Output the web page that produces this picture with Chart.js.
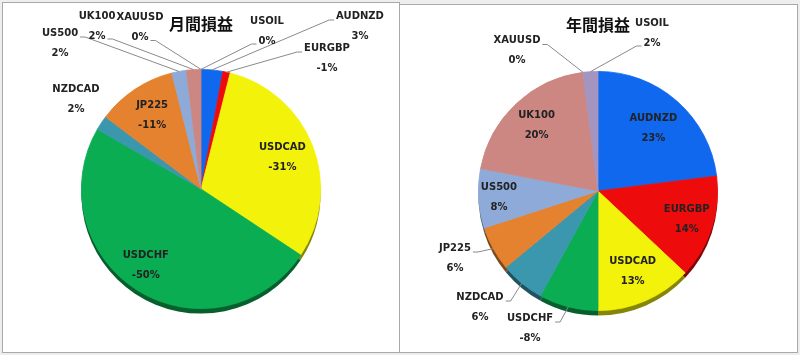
<!DOCTYPE html>
<html>
<head>
<meta charset="utf-8">
<script src="https://cdn.jsdelivr.net/npm/chart.js@4.4.1/dist/chart.umd.min.js"></script>
<style>
  html, body { margin: 0; padding: 0; }
  body { width: 800px; height: 355px; background: #eceef0; position: relative; overflow: hidden; }
  .panel { position: absolute; background: #fff; border: 1px solid #a9a9a9; }
  #pl { left: 2px; top: 2px; width: 396px; height: 349px; }
  #pr { left: 399px; top: 4px; width: 397px; height: 347px; }
  canvas { position: absolute; left: 0; top: 0; }
</style>
</head>
<body>
<div class="panel" id="pl"><canvas id="c1" width="396" height="349"></canvas></div>
<div class="panel" id="pr"><canvas id="c2" width="396" height="346"></canvas></div>
<script>
// ---- data ----
const categories = ['AUDNZD', 'EURGBP', 'USDCAD', 'USDCHF', 'NZDCAD', 'JP225', 'US500', 'UK100', 'XAUUSD', 'USOIL'];
const monthlyPct = [3, -1, -31, -50, 2, -11, 2, 2, 0, 0];
const yearlyPct = [23, 14, 13, -8, 6, 6, 8, 20, 0, 2];
const monthlyTitle = '月間損益';
const yearlyTitle = '年間損益';

// ---- styles ----
const sliceColors = ['#1068ee', '#ee0b0b', '#f2f20a', '#0aad52', '#3a97ad', '#e4822f', '#8eaad8', '#cd8782', '#8fb04a', '#a394c0'];
const textColor = '#222222';
const labelFont = 'bold 10px "DejaVu Sans", Verdana, sans-serif';
const lineGap = 20;

// label placement: inside (fraction of radius) or outside (offset from pie centre, px)
const monthlyLayout = {
  AUDNZD: { out: [159, -163], anchor: 'nameL' },
  EURGBP: { out: [126, -131], anchor: 'nameL' },
  USDCAD: { f: 0.73 },
  USDCHF: { f: 0.75, nudge: [-8, 0] },
  NZDCAD: { out: [-125, -90], anchor: null },
  JP225: { f: 0.74 },
  US500: { out: [-141, -146], anchor: 'nameR' },
  UK100: { out: [-104, -163], anchor: 'valR' },
  XAUUSD: { out: [-61, -161.5], anchor: 'valR' },
  USOIL: { out: [66, -158], anchor: 'valL' }
};
const yearlyLayout = {
  AUDNZD: { f: 0.70 },
  EURGBP: { f: 0.78 },
  USDCAD: { f: 0.73 },
  USDCHF: { out: [-68, 137], anchor: 'nameR' },
  NZDCAD: { out: [-118, 116], anchor: 'nameR' },
  JP225: { out: [-143, 67], anchor: 'nameR' },
  US500: { f: 0.83 },
  UK100: { f: 0.75 },
  XAUUSD: { out: [-81, -140.5], anchor: 'nameR' },
  USOIL: { out: [54, -158], anchor: 'valL' }
};

function shade(hex, k) {
  const n = parseInt(hex.slice(1), 16);
  let r = (n >> 16) & 255, g = (n >> 8) & 255, b = n & 255;
  if (k >= 0) { r += (255 - r) * k; g += (255 - g) * k; b += (255 - b) * k; }
  else { r *= (1 + k); g *= (1 + k); b *= (1 + k); }
  return 'rgb(' + Math.round(r) + ',' + Math.round(g) + ',' + Math.round(b) + ')';
}

function gradientFill(ctx) {
  const base = sliceColors[ctx.dataIndex];
  const chart = ctx.chart;
  const meta = chart.getDatasetMeta(0);
  const arc = meta.data[ctx.dataIndex];
  if (!arc || !arc.outerRadius) return base;
  const r = arc.outerRadius, x = arc.x, y = arc.y;
  const g = chart.ctx.createLinearGradient(x - r * 0.7, y - r * 0.7, x + r * 0.7, y + r * 0.7);
  g.addColorStop(0, shade(base, 0.06));
  g.addColorStop(0.5, base);
  g.addColorStop(1, shade(base, -0.14));
  return g;
}

// 3D side rim drawn from the library's arcs, only outside the top face
const rimPlugin = {
  id: 'rim',
  beforeDatasetsDraw(chart) {
    const ctx = chart.ctx;
    const meta = chart.getDatasetMeta(0);
    const a0 = meta.data[0];
    if (!a0) return;
    ctx.save();
    ctx.beginPath();
    ctx.rect(0, 0, chart.width, chart.height);
    ctx.arc(a0.x, a0.y, a0.outerRadius - 0.5, 0, Math.PI * 2);
    ctx.clip('evenodd');
    meta.data.forEach((arc, i) => {
      const p = arc.getProps(['x', 'y', 'startAngle', 'endAngle', 'outerRadius']);
      if (p.endAngle - p.startAngle <= 0) return;
      ctx.beginPath();
      ctx.moveTo(p.x, p.y + 5);
      ctx.arc(p.x, p.y + 5, p.outerRadius, p.startAngle, p.endAngle);
      ctx.closePath();
      ctx.fillStyle = shade(sliceColors[i], -0.45);
      ctx.fill();
    });
    ctx.restore();
  }
};

function makeLabelPlugin(values, layout) {
  return {
    id: 'sliceLabels',
    afterDatasetsDraw(chart) {
      const ctx = chart.ctx;
      const meta = chart.getDatasetMeta(0);
      ctx.save();
      ctx.font = labelFont;
      ctx.fillStyle = textColor;
      ctx.textAlign = 'center';
      ctx.textBaseline = 'middle';
      meta.data.forEach((arc, i) => {
        const p = arc.getProps(['x', 'y', 'startAngle', 'endAngle', 'outerRadius']);
        const name = categories[i];
        const val = values[i] + '%';
        const L = layout[name];
        const mid = (p.startAngle + p.endAngle) / 2;
        let cx, cy;
        if (L.out) {
          cx = p.x + L.out[0];
          cy = p.y + L.out[1];
        } else {
          const f = L.f * p.outerRadius;
          cx = p.x + Math.cos(mid) * f + (L.nudge ? L.nudge[0] : 0);
          cy = p.y + Math.sin(mid) * f + (L.nudge ? L.nudge[1] : 0);
        }
        const ny = cy - lineGap / 2, vy = cy + lineGap / 2;
        if (L.out && L.anchor) {
          const nw = ctx.measureText(name).width, vw = ctx.measureText(val).width;
          let ax, ay, dir;
          if (L.anchor === 'nameL') { ax = cx - nw / 2 - 2; ay = ny + 4; dir = -1; }
          else if (L.anchor === 'nameR') { ax = cx + nw / 2 + 2; ay = ny + 4; dir = 1; }
          else if (L.anchor === 'valL') { ax = cx - vw / 2 - 2; ay = vy + 3; dir = -1; }
          else { ax = cx + vw / 2 + 2; ay = vy + 3; dir = 1; }
          const tx = p.x + Math.cos(mid) * p.outerRadius;
          const ty = p.y + Math.sin(mid) * p.outerRadius;
          ctx.beginPath();
          ctx.strokeStyle = '#8a8a8a';
          ctx.lineWidth = 1;
          ctx.moveTo(ax, ay);
          ctx.lineTo(ax + dir * 5, ay);
          ctx.lineTo(tx, ty);
          ctx.stroke();
        }
        ctx.fillText(name, cx, ny);
        ctx.fillText(val, cx, vy);
      });
      ctx.restore();
    }
  };
}

function makePie(id, values, title, layout, titlePad, pad) {
  return new Chart(document.getElementById(id), {
    type: 'pie',
    data: {
      labels: categories,
      datasets: [{
        data: values.map(v => Math.abs(v)),
        backgroundColor: gradientFill,
        borderColor: gradientFill,
        borderWidth: 0.8,
        hoverOffset: 0
      }]
    },
    options: {
      responsive: false,
      animation: false,
      events: [],
      layout: { padding: { top: 0, bottom: pad, left: 0, right: 0 } },
      plugins: {
        legend: { display: false },
        tooltip: { enabled: false },
        title: {
          display: true,
          text: title,
          color: '#111',
          font: { family: '"Noto Sans CJK JP", sans-serif', size: 16, weight: 'bold' },
          padding: titlePad
        }
      }
    },
    plugins: [rimPlugin, makeLabelPlugin(values, layout)]
  });
}

makePie('c1', monthlyPct, monthlyTitle, monthlyLayout, { top: 11.4, bottom: 35.4 }, 43);
makePie('c2', yearlyPct, yearlyTitle, yearlyLayout, { top: 10.4, bottom: 36.4 }, 40);
</script>
</body>
</html>
